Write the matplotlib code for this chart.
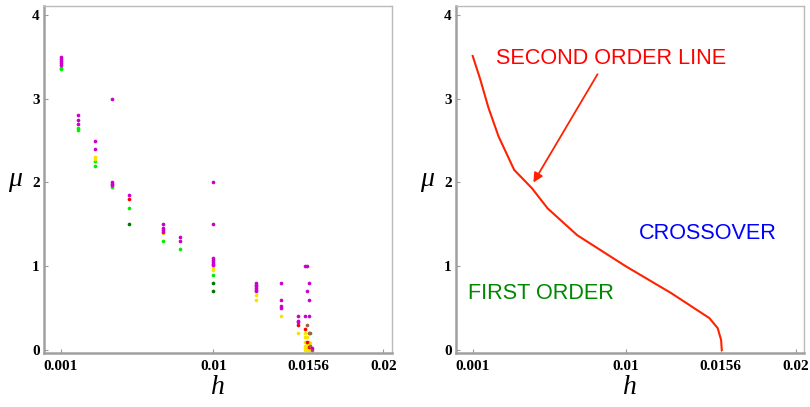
import matplotlib
matplotlib.use("Agg")
import matplotlib.pyplot as plt

# simulation points, grouped by marker colour
magenta_h = [0.001] * 5 + [0.002] * 3 + [0.003] * 2 + [0.004] * 4 + [0.005] \
    + [0.007] * 4 + [0.008] * 2 + [0.01] * 7 + [0.0125] * 6 + [0.014] * 4 \
    + [0.015] * 3 + [0.0154] * 2 + [0.0155] * 2 + [0.0156] * 3 + [0.0158]
magenta_mu = [3.5, 3.475, 3.45, 3.425, 3.4, 2.8, 2.75, 2.7, 2.5, 2.4,
              3.0, 2.0, 1.98, 1.97, 1.85, 1.5, 1.45, 1.43, 1.41, 1.35, 1.3,
              2.0, 1.5, 1.1, 1.07, 1.05, 1.03, 1.01,
              0.8, 0.78, 0.76, 0.74, 0.72, 0.7, 0.8, 0.6, 0.52, 0.5,
              0.4, 0.35, 0.33, 1.0, 0.4, 1.0, 0.7, 0.8, 0.6, 0.4, 0.02]

green_h = [0.001, 0.001, 0.002, 0.002, 0.003, 0.003, 0.004, 0.005, 0.007, 0.008, 0.01]
green_mu = [3.37, 3.35, 2.65, 2.63, 2.25, 2.2, 1.95, 1.7, 1.3, 1.2, 0.9]

dkgreen_h = [0.005, 0.01, 0.01]
dkgreen_mu = [1.5, 0.8, 0.7]

yellow_h = [0.003, 0.003, 0.007, 0.01, 0.01, 0.0125, 0.0125, 0.014, 0.015,
            0.0154, 0.0154, 0.0154, 0.0154, 0.0154, 0.0154,
            0.0155, 0.0155, 0.0155, 0.0155, 0.0156, 0.0156, 0.0156, 0.0157, 0.0157]
yellow_mu = [2.3, 2.28, 1.4, 0.98, 0.96, 0.65, 0.6, 0.4, 0.2,
             0.2, 0.15, 0.1, 0.05, 0.02, 0.0,
             0.15, 0.07, 0.03, 0.0, 0.1, 0.05, 0.0, 0.08, 0.03]

red_h = [0.005, 0.015, 0.0154, 0.0155, 0.0156]
red_mu = [1.8, 0.3, 0.25, 0.1, 0.03]

brown_h = [0.0155, 0.0156, 0.0157, 0.0157, 0.0158]
brown_mu = [0.3, 0.2, 0.2, 0.05, 0.0]

# second order line
line_h = [0.001, 0.00143, 0.00193, 0.00252, 0.00344, 0.00449, 0.00541, 0.00715,
          0.01, 0.01267, 0.01493, 0.01542, 0.01562, 0.01566]
line_mu = [3.51, 3.24, 2.89, 2.55, 2.15, 1.93, 1.69, 1.37, 1.0, 0.68, 0.38, 0.26, 0.12, 0.0]

xticks = [0.001, 0.01, 0.0156, 0.02]
xticklabels = ["0.001", "0.01", "0.0156", "0.02"]
yticks = [0, 1, 2, 3, 4]

fig = plt.figure(figsize=(8.1, 4.07), dpi=100)
ax1 = fig.add_axes([0.054, 0.132, 0.4296, 0.854])
ax2 = fig.add_axes([0.5626, 0.132, 0.430, 0.854])

tickfont = dict(family="Liberation Serif", weight="bold", size=11)


def style(ax):
    ax.set_xlim(0, 0.0205)
    ax.set_ylim(-0.04, 4.11)
    ax.set_xticks(xticks)
    ax.set_xticklabels(xticklabels, fontdict=tickfont)
    ax.set_yticks(yticks)
    ax.set_yticklabels([str(t) for t in yticks], fontdict=tickfont)
    ax.tick_params(direction="in", length=3, color="#999999", pad=3)
    ax.tick_params(axis="x", pad=5)
    for s in ["left", "bottom"]:
        ax.spines[s].set_color("#a0a0a0")
        ax.spines[s].set_linewidth(1.8)
    for s in ["top", "right"]:
        ax.spines[s].set_color("#bbbbbb")
        ax.spines[s].set_linewidth(1.0)
    ax.set_xlabel("h", family="Liberation Serif", style="italic", fontsize=20, labelpad=1)
    ax.set_ylabel("μ", family="Liberation Serif", style="italic", fontsize=20,
                  rotation=0, labelpad=12, va="center")


style(ax1)
style(ax2)

ms = 7
ax1.scatter(green_h, green_mu, s=ms, color="#00ee00", lw=0, zorder=3)
ax1.scatter(dkgreen_h, dkgreen_mu, s=ms, color="#007700", lw=0, zorder=3)
ax1.scatter(yellow_h, yellow_mu, s=ms, color="#f5e400", lw=0, zorder=3)
ax1.scatter(red_h, red_mu, s=ms, color="#ff0000", lw=0, zorder=4)
ax1.scatter(brown_h, brown_mu, s=ms, color="#99663a", lw=0, zorder=4)
ax1.scatter(magenta_h, magenta_mu, s=ms, color="#cc00cc", lw=0, zorder=5)

ax2.plot(line_h, line_mu, color="#ff2200", lw=1.5)
ax2.annotate("", xy=(0.00449, 1.97), xytext=(0.00843, 3.32),
             arrowprops=dict(arrowstyle="-|>", color="#ff2200", lw=1.3, mutation_scale=14))
ax2.text(0.00238, 3.48, "SECOND ORDER LINE", color="#ff0000",
         family="Liberation Sans", fontsize=15.6, va="center")
ax2.text(0.0108, 1.39, "CROSSOVER", color="#0000ff",
         family="Liberation Sans", fontsize=15.6, va="center")
ax2.text(0.00074, 0.67, "FIRST ORDER", color="#008800",
         family="Liberation Sans", fontsize=15.6, va="center")

fig.savefig("out.png", dpi=100)
